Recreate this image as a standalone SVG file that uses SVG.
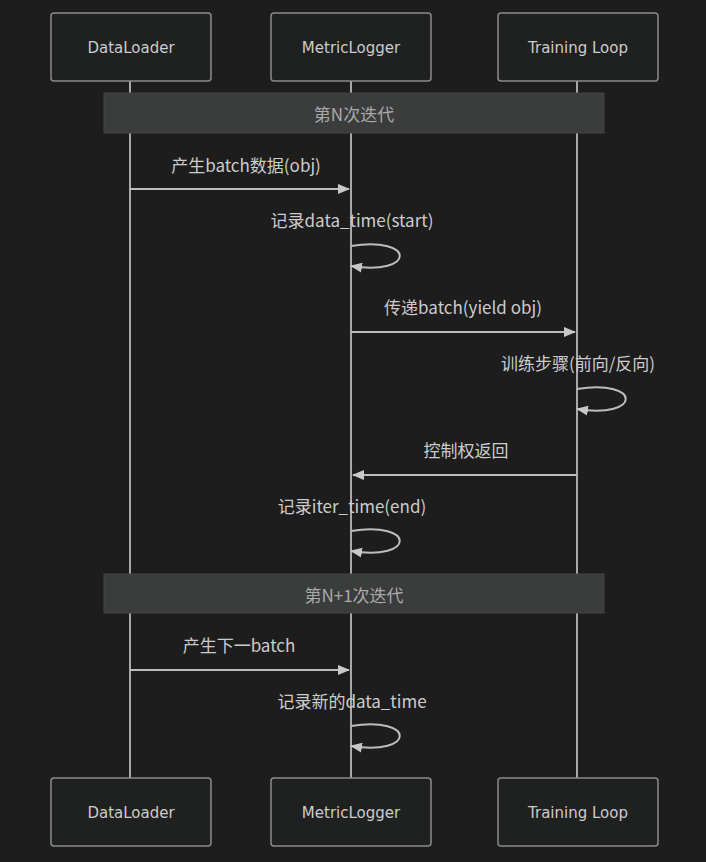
<svg xmlns="http://www.w3.org/2000/svg" width="706" height="862" viewBox="0 0 706 862">
<defs>
<style>
.actor rect{fill:#1f2020;stroke:#8a8a8a;stroke-width:1.5}
.actor text{fill:#cccccc;font-family:"DejaVu Sans","Liberation Sans",sans-serif;font-size:15px;text-anchor:middle;dominant-baseline:central}
.life{stroke:#a8a8a8;stroke-width:2}
.msg{stroke:#bdbdbd;stroke-width:2;fill:none}
.lbl{fill:#cccccc;font-family:"Noto Sans CJK SC","Noto Sans",sans-serif;font-size:17px;text-anchor:middle}
.loop rect{fill:#3b3c3c;stroke:#444;stroke-width:1}
.loop text{fill:#aaaaaa;font-family:"Noto Sans CJK SC","Noto Sans",sans-serif;font-size:17px;text-anchor:middle;dominant-baseline:central}
</style>
<marker id="arr" viewBox="0 0 12 10" refX="11" refY="5" markerWidth="12" markerHeight="10" markerUnits="userSpaceOnUse" orient="auto">
<path d="M0,0 L12,5 L0,10 z" fill="#c8c8c8"/>
</marker>
</defs>
<rect width="706" height="862" fill="#1d1d1d"/>
<g id="lifelines">
<line class="life" x1="130" y1="81" x2="130" y2="778"/>
<line class="life" x1="351" y1="81" x2="351" y2="778"/>
<line class="life" x1="577" y1="81" x2="577" y2="778"/>
</g>
<g id="actor-dataloader-top" class="actor"><rect x="51" y="13" width="160" height="68" rx="3"/><text x="131" y="48">DataLoader</text></g>
<g id="actor-metric-top" class="actor"><rect x="271" y="13" width="160" height="68" rx="3"/><text x="351" y="48">MetricLogger</text></g>
<g id="actor-train-top" class="actor"><rect x="498" y="13" width="160" height="68" rx="3"/><text x="578" y="48">Training Loop</text></g>
<g id="actor-dataloader-bottom" class="actor"><rect x="51" y="778" width="160" height="68" rx="3"/><text x="131" y="813">DataLoader</text></g>
<g id="actor-metric-bottom" class="actor"><rect x="271" y="778" width="160" height="68" rx="3"/><text x="351" y="813">MetricLogger</text></g>
<g id="actor-train-bottom" class="actor"><rect x="498" y="778" width="160" height="68" rx="3"/><text x="578" y="813">Training Loop</text></g>
<g id="loop-n" class="loop"><rect x="104" y="93" width="500" height="40"/><text x="354" y="113">第N次迭代</text></g>
<g id="loop-n1" class="loop"><rect x="104" y="574" width="500" height="39"/><text x="354" y="594">第N+1次迭代</text></g>
<g id="connectors">
<line class="msg" x1="130" y1="189" x2="349" y2="189" marker-end="url(#arr)"/>
<text class="lbl" x="246" y="172">产生batch数据(obj)</text>
<path class="msg" d="M351,246 C416,236 416,276 351,266" marker-end="url(#arr)"/>
<text class="lbl" x="352" y="227">记录data_time(start)</text>
<line class="msg" x1="351" y1="332" x2="575" y2="332" marker-end="url(#arr)"/>
<text class="lbl" x="463" y="314">传递batch(yield obj)</text>
<path class="msg" d="M577,389 C642,379 642,419 577,409" marker-end="url(#arr)"/>
<text class="lbl" x="578" y="370">训练步骤(前向/反向)</text>
<line class="msg" x1="577" y1="475" x2="353" y2="475" marker-end="url(#arr)"/>
<text class="lbl" x="466" y="457">控制权返回</text>
<path class="msg" d="M351,531 C416,521 416,561 351,551" marker-end="url(#arr)"/>
<text class="lbl" x="352" y="513">记录iter_time(end)</text>
<line class="msg" x1="130" y1="670" x2="349" y2="670" marker-end="url(#arr)"/>
<text class="lbl" x="239" y="652">产生下一batch</text>
<path class="msg" d="M351,726 C416,716 416,756 351,746" marker-end="url(#arr)"/>
<text class="lbl" x="352" y="708">记录新的data_time</text>
</g>
</svg>
